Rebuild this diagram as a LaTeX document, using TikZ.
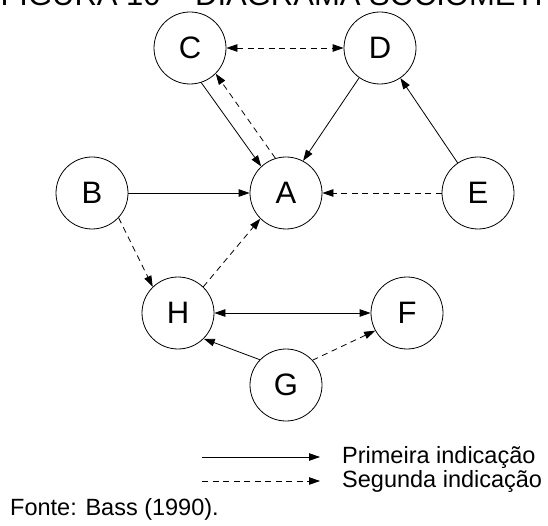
\documentclass[tikz,border=0pt]{standalone}
\usepackage{fontspec}
\setmainfont{Liberation Sans}
\usetikzlibrary{arrows.meta}
\tikzset{
  pers/.style={circle, draw, line width=0.8pt, minimum size=72pt, inner sep=0pt, font=\fontsize{31}{31}\selectfont},
  firstind/.style={line width=0.8pt, -{Triangle[length=11pt,width=7.5pt]}},
  secondind/.style={firstind, dash pattern=on 6pt off 4.5pt},
  both/.style={{Triangle[length=11pt,width=7.5pt]}-{Triangle[length=11pt,width=7.5pt]}},
  legtext/.style={anchor=base west, inner sep=0pt, font=\fontsize{23.5}{24}\selectfont},
}
\begin{document}
\begin{tikzpicture}[x=1pt,y=1pt]
\useasboundingbox (0,0) rectangle (548,525);
\clip (0,0) rectangle (548,525);
\node[anchor=base west, inner sep=0pt, font=\fontsize{31}{31}\selectfont] (title) at (195,519) {\llap{FIGURA 10 – }DIAGRAMA SOCIOMÉTRICO};
\node[pers] (A) at (286,332) {A};
\node[pers] (B) at (92,332) {B};
\node[pers] (C) at (190,477) {C};
\node[pers] (D) at (380,477) {D};
\node[pers] (E) at (478,332) {E};
\node[pers] (H) at (178,212) {H};
\node[pers] (F) at (407,212) {F};
\node[pers] (G) at (286,140) {G};
\draw[secondind, both] (C) -- (D);
\draw[firstind] (C.-72) -- (A.133);
\draw[secondind] (A.107) -- (C.-45);
\draw[firstind] (D.235) -- (A.62);
\draw[firstind] (E) -- (D);
\draw[firstind] (B) -- (A);
\draw[secondind] (E) -- (A);
\draw[secondind] (B.-43) -- (H.134);
\draw[secondind] (H.46) -- (A.-135);
\draw[firstind, both] (H) -- (F);
\draw[firstind] (G.136) -- (H.-45);
\draw[secondind] (G.43) -- (F.-151);
\coordinate (l1s) at (202,68);
\coordinate (l1e) at (320,68);
\coordinate (l2s) at (202,44);
\coordinate (l2e) at (320,44);
\draw[firstind] (l1s) -- (l1e);
\draw[secondind] (l2s) -- (l2e);
\node[legtext] (t1) at (342,62) {Primeira indicação};
\node[legtext] (t2) at (342,38) {Segunda indicação};
\node[legtext] (src) at (10,10) {Fonte: Bass (1990).};
\end{tikzpicture}
\end{document}
